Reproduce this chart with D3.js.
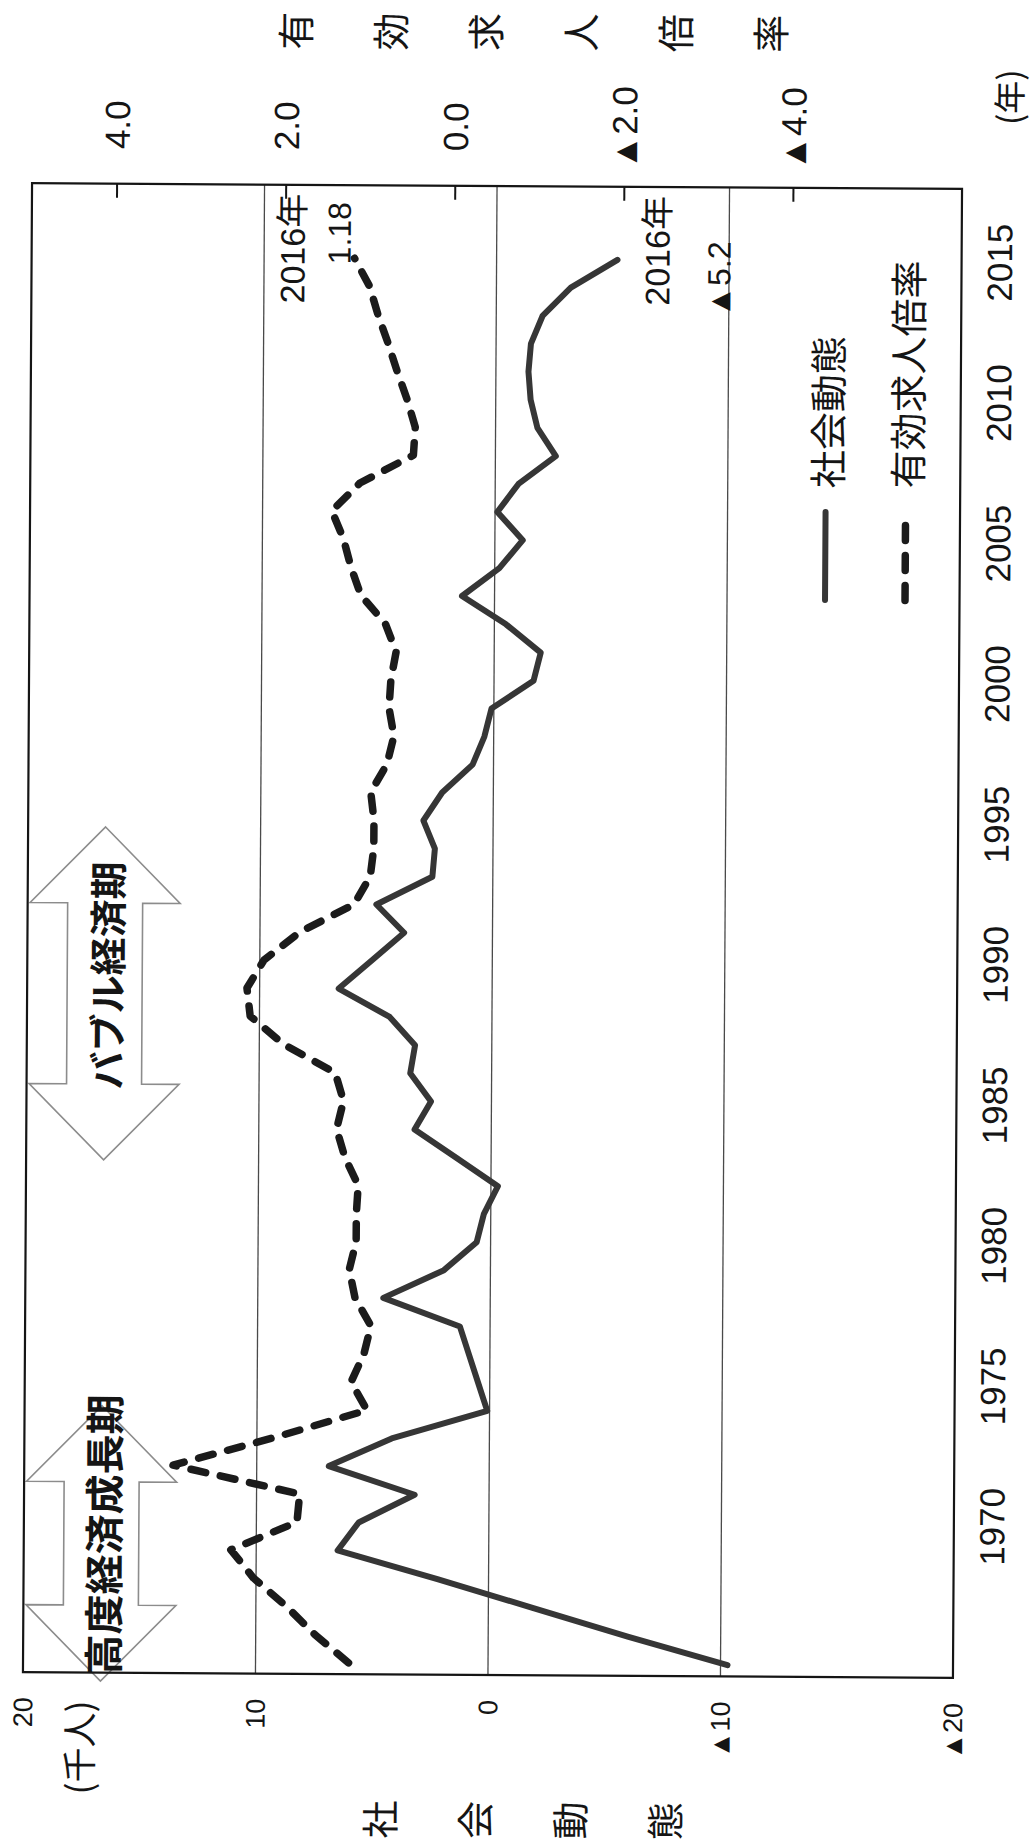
<!DOCTYPE html>
<html>
<head>
<meta charset="utf-8">
<script src="https://cdn.jsdelivr.net/npm/d3@7"></script>
<style>
  body { margin: 0; background: #fff; }
  svg { display: block; }
</style>
</head>
<body>
<svg id="chart" width="1035" height="1844"></svg>
<script>
// ---- data ---------------------------------------------------------------
const years = [1965, 1966, 1967, 1968, 1969, 1970, 1971, 1972, 1973, 1974,
               1975, 1976, 1977, 1978, 1979, 1980, 1981, 1982, 1983, 1984,
               1985, 1986, 1987, 1988, 1989, 1990, 1991, 1992, 1993, 1994,
               1995, 1996, 1997, 1998, 1999, 2000, 2001, 2002, 2003, 2004,
               2005, 2006, 2007, 2008, 2009, 2010, 2011, 2012, 2013, 2014, 2015];

// 社会動態（千人）
const socialChange = [-10.3, -6.0, -1.9, 2.2, 6.5, 5.6, 3.2, 6.9, 4.2, 0.1,
                      0.5, 0.9, 1.3, 4.6, 2.0, 0.6, 0.3, -0.3, 1.5, 3.3,
                      2.6, 3.5, 3.3, 4.4, 6.6, 5.2, 3.8, 5.0, 2.6, 2.5,
                      3.0, 2.2, 0.9, 0.4, 0.1, -1.7, -2.0, -0.5, 1.4, -0.2,
                      -1.2, -0.1, -1.0, -2.6, -1.8, -1.5, -1.4, -1.5, -2.0, -3.2, -5.2];

// 有効求人倍率
const jobRatio = [1.15, 1.55, 1.89, 2.28, 2.55, 1.77, 1.74, 3.24, 2.05, 0.95,
                  1.14, 0.99, 0.91, 1.10, 1.17, 1.09, 1.09, 1.07, 1.23, 1.33,
                  1.25, 1.35, 1.96, 2.36, 2.40, 2.20, 1.78, 1.14, 0.95, 0.91,
                  0.91, 0.95, 0.76, 0.68, 0.74, 0.72, 0.66, 0.79, 1.08, 1.20,
                  1.29, 1.43, 1.10, 0.47, 0.45, 0.55, 0.67, 0.78, 0.90, 1.00, 1.18];

const yearTicks = [1970, 1975, 1980, 1985, 1990, 1995, 2000, 2005, 2010, 2015];
const leftTicks = [20, 10, 0, -10, -20];
const rightTicks = [4, 2, 0, -2, -4];
const gridValues = [10, 0, -10];

const seriesNames = ["社会動態", "有効求人倍率"];
const leftTitle = "社会動態";
const rightTitle = "有効求人倍率";
const leftUnit = "(千人)";
const yearUnit = "(年)";

// periods marked with double-headed arrows
const periodNames = ["高度経済成長期", "バブル経済期"];
const periodFrom = [1964.3, 1982.85];
const periodTo = [1974.1, 1994.7];

// ---- layout -------------------------------------------------------------
const P = { left: 27.5, right: 957.5, top: 186, bottom: 1675 };
const TILT = 0.35;                 // slight clockwise tilt of the whole sheet
const NUM_FONT = "'Liberation Sans', Arial, 'Noto Sans CJK JP', sans-serif";
const JP_FONT = "'Noto Sans CJK JP', 'Noto Sans CJK SC', sans-serif";
const INK = "#151515";

const svg = d3.select("#chart");
svg.append("rect").attr("width", 1035).attr("height", 1844).attr("fill", "#fff");
const g = svg.append("g").attr("transform", `rotate(${TILT}, 492, 930)`);

// scales: years run bottom -> top, values run across
const yScale = d3.scaleLinear().domain([1964.6, 2017.6]).range([P.bottom, P.top]);
const xLeft = d3.scaleLinear().domain([20, -20]).range([P.left, P.right]);
const xRight = d3.scaleLinear().domain([5, -6]).range([P.left, P.right]);

const fmtLeft = v => v < 0 ? "▲" + Math.abs(v) : String(v);
const fmtRight = v => v < 0 ? "▲" + Math.abs(v).toFixed(1) : v.toFixed(1);
const rot = (x, y) => `translate(${x},${y}) rotate(-90)`;

// ---- period arrows ------------------------------------------------------
const arrowCX = 105, headHalf = 75, shaftHalf = 37.5, headLen = 76;
function arrowPath(yTop, yBot) {
  const c = arrowCX;
  return `M${c},${yTop} L${c + headHalf},${yTop + headLen} L${c + shaftHalf},${yTop + headLen}
          L${c + shaftHalf},${yBot - headLen} L${c + headHalf},${yBot - headLen} L${c},${yBot}
          L${c - headHalf},${yBot - headLen} L${c - shaftHalf},${yBot - headLen}
          L${c - shaftHalf},${yTop + headLen} L${c - headHalf},${yTop + headLen} Z`;
}
const periods = periodNames.map((name, i) => ({ name, from: periodFrom[i], to: periodTo[i] }));
g.selectAll(".period").data(periods).join("path")
  .attr("class", "period")
  .attr("d", d => arrowPath(yScale(d.to), yScale(d.from)))
  .attr("fill", "#fff")
  .attr("stroke", "#8c8c8c")
  .attr("stroke-width", 1.6)
  .attr("stroke-linejoin", "miter");

const periodLabelShift = [-9, -18];
g.selectAll(".periodLabel").data(periods).join("text")
  .attr("class", "periodLabel")
  .attr("transform", (d, i) => rot(arrowCX + 1, (yScale(d.to) + yScale(d.from)) / 2 + periodLabelShift[i]))
  .attr("text-anchor", "middle")
  .attr("dominant-baseline", "central")
  .attr("font-family", JP_FONT)
  .attr("font-weight", 700)
  .attr("font-size", (d, i) => i === 0 ? 40 : 38)
  .attr("fill", INK)
  .text(d => d.name);

// ---- grid + frame -------------------------------------------------------
g.selectAll(".grid").data(gridValues).join("line")
  .attr("class", "grid")
  .attr("x1", d => xLeft(d)).attr("x2", d => xLeft(d))
  .attr("y1", P.top).attr("y2", P.bottom)
  .attr("stroke", "#4a4a4a").attr("stroke-width", 1.3);

g.append("rect")
  .attr("x", P.left).attr("y", P.top)
  .attr("width", P.right - P.left).attr("height", P.bottom - P.top)
  .attr("fill", "none").attr("stroke", INK).attr("stroke-width", 2.2);

// ---- axes ---------------------------------------------------------------
// 有効求人倍率 axis along the top edge
const topAxis = g.append("g").attr("transform", `translate(0,${P.top})`)
  .call(d3.axisTop(xRight).tickValues(rightTicks).tickFormat(fmtRight)
        .tickSizeInner(-14).tickSizeOuter(0));
topAxis.select(".domain").remove();
topAxis.selectAll(".tick line").attr("stroke", INK).attr("stroke-width", 2);
topAxis.selectAll(".tick text")
  .attr("y", null).attr("dy", null)
  .attr("transform", rot(0, -59))
  .attr("text-anchor", "middle").attr("dominant-baseline", "central")
  .attr("font-family", NUM_FONT).attr("font-size", 35).attr("fill", INK);

// 社会動態 axis along the bottom edge
const bottomAxis = g.append("g").attr("transform", `translate(0,${P.bottom})`)
  .call(d3.axisBottom(xLeft).tickValues(leftTicks).tickFormat(fmtLeft).tickSize(0));
bottomAxis.select(".domain").remove();
bottomAxis.selectAll(".tick text")
  .attr("y", null).attr("dy", null)
  .attr("transform", rot(0, 25))
  .attr("text-anchor", "end").attr("dominant-baseline", "central")
  .attr("font-family", NUM_FONT).attr("font-size", 27).attr("fill", INK);

// year axis along the right edge
const yearAxis = g.append("g").attr("transform", `translate(${P.right},0)`)
  .call(d3.axisRight(yScale).tickValues(yearTicks).tickFormat(d => String(d)).tickSize(0));
yearAxis.select(".domain").remove();
yearAxis.selectAll(".tick text")
  .attr("x", null).attr("dy", null)
  .attr("transform", rot(38, 0))
  .attr("text-anchor", "middle").attr("dominant-baseline", "central")
  .attr("font-family", NUM_FONT).attr("font-size", 35).attr("fill", INK);

// axis titles, one upright character at a time
const titleCX = 526, titleStep = 95;
g.selectAll(".rtitle").data(Array.from(rightTitle)).join("text")
  .attr("class", "rtitle")
  .attr("transform", (d, i, n) => rot(titleCX + (i - (n.length - 1) / 2) * titleStep, 32))
  .attr("text-anchor", "middle").attr("dominant-baseline", "central")
  .attr("font-family", JP_FONT).attr("font-size", 38).attr("fill", INK)
  .text(d => d);
g.selectAll(".ltitle").data(Array.from(leftTitle)).join("text")
  .attr("class", "ltitle")
  .attr("transform", (d, i, n) => rot(titleCX + (i - (n.length - 1) / 2) * titleStep, 1820))
  .attr("text-anchor", "middle").attr("dominant-baseline", "central")
  .attr("font-family", JP_FONT).attr("font-size", 38).attr("fill", INK)
  .text(d => d);

g.append("text").attr("transform", rot(82, 1750))
  .attr("text-anchor", "middle").attr("dominant-baseline", "central")
  .attr("font-family", JP_FONT).attr("font-size", 35).attr("fill", INK)
  .text(leftUnit);
g.append("text").attr("transform", rot(1003, 94))
  .attr("text-anchor", "middle").attr("dominant-baseline", "central")
  .attr("font-family", JP_FONT).attr("font-size", 33).attr("fill", INK)
  .text(yearUnit);

// ---- series -------------------------------------------------------------
const solidLine = d3.line().x(d => xLeft(d.v)).y(d => yScale(d.year));
const dashLine = d3.line().x(d => xRight(d.v)).y(d => yScale(d.year));
const social = years.map((year, i) => ({ year, v: socialChange[i] }));
const ratio = years.map((year, i) => ({ year, v: jobRatio[i] }));

const SOLID = { stroke: "#363636", width: 6, dash: null };
const DASH = { stroke: "#1b1b1b", width: 7.5, dash: "15,15" };

g.append("path").datum(social)
  .attr("d", solidLine)
  .attr("fill", "none").attr("stroke", SOLID.stroke).attr("stroke-width", SOLID.width)
  .attr("stroke-linejoin", "round").attr("stroke-linecap", "round");

g.append("path").datum(ratio)
  .attr("d", dashLine)
  .attr("fill", "none").attr("stroke", DASH.stroke).attr("stroke-width", DASH.width)
  .attr("stroke-dasharray", DASH.dash)
  .attr("stroke-linejoin", "round").attr("stroke-linecap", "round");

// ---- end-point labels ---------------------------------------------------
const lastR = ratio[ratio.length - 1];
const lastS = social[social.length - 1];
const rx = xRight(lastR.v);
const sx = xLeft(lastS.v);

const endLabels = [
  { text: "2016年", x: rx - 62, y: 195, size: 34 },
  { text: lastR.v.toFixed(2), x: rx - 15, y: 203, size: 32 },
  { text: "2016年", x: sx + 40, y: 195, size: 34 },
  { text: fmtLeft(lastS.v), x: sx + 102, y: 240, size: 32 }
];
g.selectAll(".endLabel").data(endLabels).join("text")
  .attr("class", "endLabel")
  .attr("transform", d => rot(d.x, d.y))
  .attr("text-anchor", "end").attr("dominant-baseline", "central")
  .attr("font-family", NUM_FONT).attr("font-size", d => d.size).attr("fill", INK)
  .text(d => d.text);

// ---- legend -------------------------------------------------------------
const legendItems = [
  { name: seriesNames[0], x: 823, style: SOLID },
  { name: seriesNames[1], x: 903, style: DASH }
];
const legend = g.selectAll(".legend").data(legendItems).join("g").attr("class", "legend");
legend.append("line")
  .attr("x1", d => d.x).attr("x2", d => d.x)
  .attr("y1", 598).attr("y2", 510)
  .attr("stroke", d => d.style.stroke).attr("stroke-width", d => d.style.width)
  .attr("stroke-dasharray", d => d.style.dash)
  .attr("stroke-linecap", "round");
legend.append("text")
  .attr("transform", d => rot(d.x, 486))
  .attr("text-anchor", "start").attr("dominant-baseline", "central")
  .attr("font-family", JP_FONT).attr("font-size", 38).attr("fill", INK)
  .text(d => d.name);
</script>
</body>
</html>
